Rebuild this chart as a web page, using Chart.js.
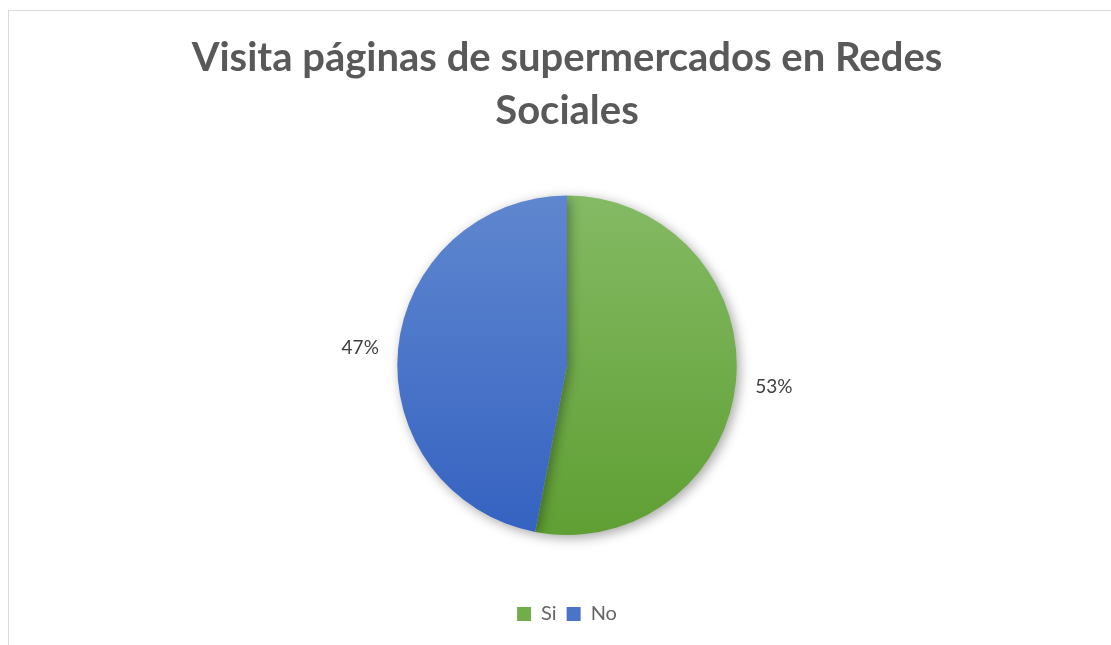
<!DOCTYPE html>
<html>
<head>
<meta charset="utf-8">
<script src="https://cdn.jsdelivr.net/npm/chart.js@4/dist/chart.umd.min.js"></script>
<style>
  html, body { margin: 0; padding: 0; background: #fff; }
  #wrap { position: relative; width: 1111px; height: 645px; overflow: hidden; }
  #frame { position: absolute; left: 8px; top: 10px; width: 1200px; height: 700px;
           border-left: 1.5px solid #d9d9d9; border-top: 1.5px solid #d9d9d9; box-sizing: border-box; }
  canvas { position: absolute; left: 0; top: 0; }
</style>
</head>
<body>
<div id="wrap">
  <div id="frame"></div>
  <canvas id="c" width="1111" height="645"></canvas>
</div>
<script>
const categories = ['Si', 'No'];
const values = [53, 47];
const titleLines = ['Visita páginas de supermercados en Redes', 'Sociales'];
const topColors = ['#84ba64', '#5f87cf'];
const bottomColors = ['#5f9f33', '#3562c1'];
const legendColors = ['#72ad4c', '#4a74c8'];

function gradientFor(ctx, i) {
  const chart = ctx.chart;
  const area = chart.chartArea;
  if (!area || !isFinite(area.top) || !isFinite(area.bottom)) return topColors[i];
  const cy = (area.top + area.bottom) / 2;
  const r = Math.min(area.right - area.left, area.bottom - area.top) / 2;
  if (!isFinite(cy) || !isFinite(r) || r <= 0) return topColors[i];
  const g = chart.ctx.createLinearGradient(0, cy - r, 0, cy + r);
  g.addColorStop(0, topColors[i]);
  g.addColorStop(1, bottomColors[i]);
  return g;
}

const shadowPlugin = {
  id: 'shadowPlugin',
  beforeDatasetsDraw(chart) {
    const c = chart.ctx;
    c.save();
    c.shadowColor = 'rgba(0,0,0,0.35)';
    c.shadowBlur = 12;
    c.shadowOffsetX = 3;
    c.shadowOffsetY = 3;
  },
  afterDatasetsDraw(chart) {
    chart.ctx.restore();
  }
};

const labelPlugin = {
  id: 'labelPlugin',
  afterDatasetsDraw(chart) {
    const c = chart.ctx;
    const meta = chart.getDatasetMeta(0);
    const total = values.reduce((a, b) => a + b, 0);
    c.save();
    c.font = '19px Lato, "Open Sans", sans-serif';
    c.fillStyle = '#404040';
    c.textAlign = 'center';
    c.textBaseline = 'middle';
    meta.data.forEach((arc, i) => {
      const mid = (arc.startAngle + arc.endAngle) / 2;
      const rr = arc.outerRadius + 38;
      const x = arc.x + Math.cos(mid) * rr;
      const y = arc.y + Math.sin(mid) * rr + 2;
      c.fillText(Math.round(values[i] / total * 100) + '%', x, y);
    });
    c.restore();
  }
};

new Chart(document.getElementById('c'), {
  type: 'pie',
  data: {
    labels: categories,
    datasets: [{
      data: values,
      backgroundColor: (ctx) => gradientFor(ctx, ctx.dataIndex),
      borderWidth: 0,
      hoverOffset: 0
    }]
  },
  plugins: [shadowPlugin, labelPlugin],
  options: {
    responsive: false,
    animation: false,
    events: [],
    layout: { padding: { left: 23, right: 0, top: 0, bottom: 11 } },
    plugins: {
      tooltip: { enabled: false },
      title: {
        display: true,
        text: titleLines,
        color: '#595959',
        font: { family: 'Lato, "Open Sans", sans-serif', size: 40, weight: 'bold', lineHeight: 1.32 },
        padding: { top: 32, bottom: 58 }
      },
      legend: {
        position: 'bottom',
        title: {
          display: true,
          text: '',
          font: { size: 1, lineHeight: 1 },
          padding: { top: 58, bottom: 0 }
        },
        labels: {
          color: '#595959',
          font: { family: 'Lato, "Open Sans", sans-serif', size: 20 },
          boxWidth: 14,
          boxHeight: 14,
          padding: 10,
          generateLabels: (chart) => categories.map((name, i) => ({
            text: name,
            fillStyle: legendColors[i],
            strokeStyle: legendColors[i],
            lineWidth: 0,
            hidden: false,
            index: i
          }))
        }
      }
    }
  }
});
</script>
</body>
</html>
